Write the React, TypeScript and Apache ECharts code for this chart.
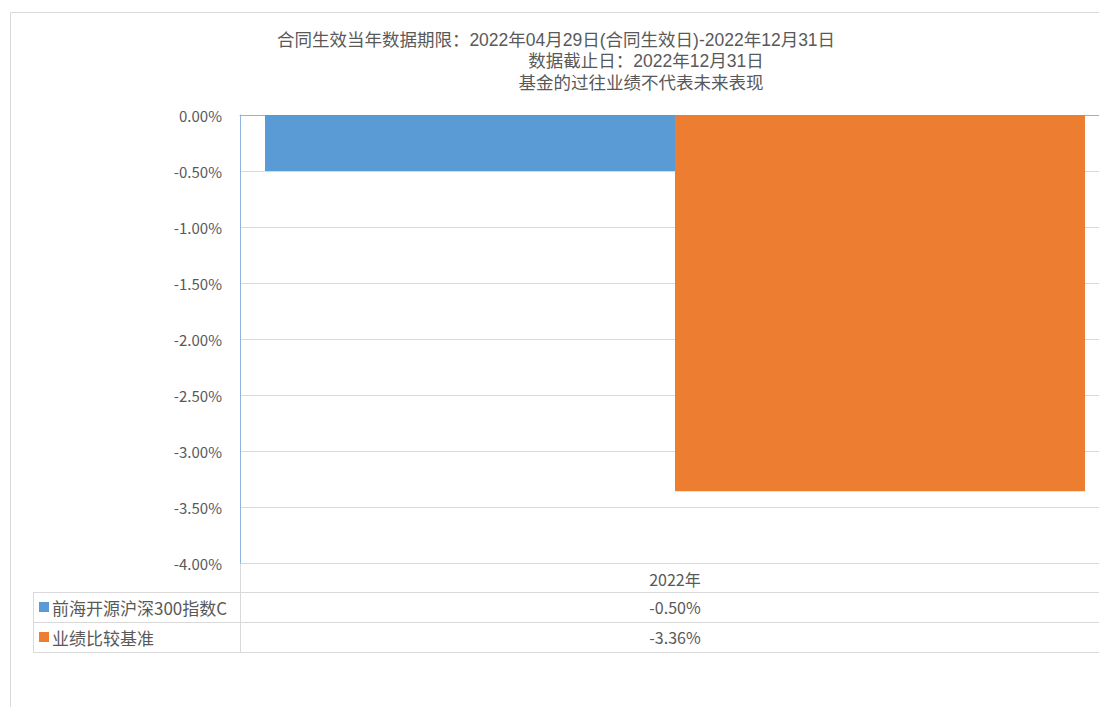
import React, { useEffect, useRef } from "react";
import * as echarts from "echarts";

const categories = ["2022年"];
const seriesNames = ["前海开源沪深300指数C", "业绩比较基准"];
const fundValues = [-0.5];
const benchmarkValues = [-3.36];
const titleLines = [
  "合同生效当年数据期限：2022年04月29日(合同生效日)-2022年12月31日",
  "数据截止日：2022年12月31日",
  "基金的过往业绩不代表未来表现",
];
const colors = ["#5b9bd5", "#ed7d31"];

const FONT = "'Noto Sans CJK SC', 'Noto Sans', sans-serif";
const TITLE_FONT = "'Liberation Sans', 'Noto Sans CJK SC', sans-serif";
const TEXT = "#595959";
const GRID_LINE = "#d9d9d9";
const AXIS_BLUE = "#8eb4e3";

export default function App() {
  const ref = useRef<HTMLDivElement>(null);
  useEffect(() => {
    if (!ref.current) return;
    document.body.style.overflow = "hidden";
    const chart = echarts.init(ref.current, null, { renderer: "svg" });
    const titlePos = [
      [556, 40],
      [646, 61],
      [641, 83],
    ];
    const baseGraphic: any[] = [
      {
        type: "rect",
        shape: { x: 10.5, y: 12.5, width: 1300, height: 900 },
        style: { fill: "none", stroke: GRID_LINE, lineWidth: 1 },
        silent: true,
      },
      ...titleLines.map((t, i) => ({
        type: "text",
        x: titlePos[i][0],
        y: titlePos[i][1],
        style: {
          text: t,
          fill: TEXT,
          font: `17.5px ${TITLE_FONT}`,
          lineHeight: 20,
          textAlign: "center",
          textVerticalAlign: "middle",
        },
      })),
      // table lines
      { type: "line", shape: { x1: 240.5, y1: 563, x2: 240.5, y2: 652 }, style: { stroke: GRID_LINE, lineWidth: 1 } },
      { type: "line", shape: { x1: 33.5, y1: 592, x2: 33.5, y2: 652 }, style: { stroke: GRID_LINE, lineWidth: 1 } },
      { type: "line", shape: { x1: 33, y1: 592.5, x2: 1200, y2: 592.5 }, style: { stroke: GRID_LINE, lineWidth: 1 } },
      { type: "line", shape: { x1: 33, y1: 622.5, x2: 1200, y2: 622.5 }, style: { stroke: GRID_LINE, lineWidth: 1 } },
      { type: "line", shape: { x1: 33, y1: 652.5, x2: 1200, y2: 652.5 }, style: { stroke: GRID_LINE, lineWidth: 1 } },
    ];
    const option: any = {
      animation: false,
      backgroundColor: "#ffffff",
      textStyle: { fontFamily: FONT },
      grid: { left: 240, top: 115, width: 870, height: 448, containLabel: false },
      legend: {
        orient: "vertical",
        left: 39,
        top: 597,
        padding: 0,
        itemWidth: 10,
        itemHeight: 10,
        itemGap: 10,
        icon: "rect",
        selectedMode: false,
        textStyle: { fontSize: 17, color: TEXT, lineHeight: 20, fontFamily: FONT, padding: [0, 0, 0, -2] },
        data: seriesNames,
      },
      xAxis: [
        {
          type: "category",
          position: "bottom",
          data: categories,
          axisLine: { show: false, onZero: false },
          axisTick: { show: false },
          axisLabel: { fontSize: 16, color: TEXT, margin: 8, fontFamily: FONT },
          splitLine: { show: false },
        },
        {
          type: "category",
          position: "top",
          data: categories,
          axisLine: { show: true, onZero: false, lineStyle: { color: AXIS_BLUE, width: 1 } },
          axisTick: { show: false },
          axisLabel: { show: false },
          splitLine: { show: false },
        },
      ],
      yAxis: {
        type: "value",
        min: -4,
        max: 0,
        interval: 0.5,
        axisLine: { show: true, lineStyle: { color: AXIS_BLUE, width: 1 } },
        axisTick: { show: false },
        axisLabel: {
          fontSize: 15,
          color: TEXT,
          margin: 18,
          fontFamily: FONT,
          formatter: (v: number) => v.toFixed(2) + "%",
        },
        splitLine: { show: true, lineStyle: { color: GRID_LINE, width: 1 } },
      },
      series: [
        {
          name: seriesNames[0],
          type: "bar",
          xAxisIndex: 0,
          data: fundValues,
          itemStyle: { color: colors[0] },
          barGap: "0%",
          barCategoryGap: "5.75%",
        },
        {
          name: seriesNames[1],
          type: "bar",
          xAxisIndex: 0,
          data: benchmarkValues,
          itemStyle: { color: colors[1] },
          barGap: "0%",
          barCategoryGap: "5.75%",
        },
      ],
      graphic: baseGraphic,
    };
    chart.setOption(option);
    const valueRows = [fundValues, benchmarkValues];
    const rowY = [607, 637];
    const valueTexts: any[] = [];
    categories.forEach((c, ci) => {
      const px = chart.convertToPixel({ xAxisIndex: 0 }, c) as number;
      valueRows.forEach((vals, ri) => {
        valueTexts.push({
          type: "text",
          x: px,
          y: rowY[ri],
          style: {
            text: vals[ci].toFixed(2) + "%",
            fill: TEXT,
            font: `16px ${FONT}`,
            textAlign: "center",
            textVerticalAlign: "middle",
          },
        });
      });
    });
    chart.setOption({ graphic: [...baseGraphic, ...valueTexts] }, { replaceMerge: ["graphic"] });
    return () => chart.dispose();
  }, []);
  return (
    <div
      ref={ref}
      style={{ position: "fixed", left: 0, top: 0, width: 1111, height: 707, background: "#fff" }}
    />
  );
}
